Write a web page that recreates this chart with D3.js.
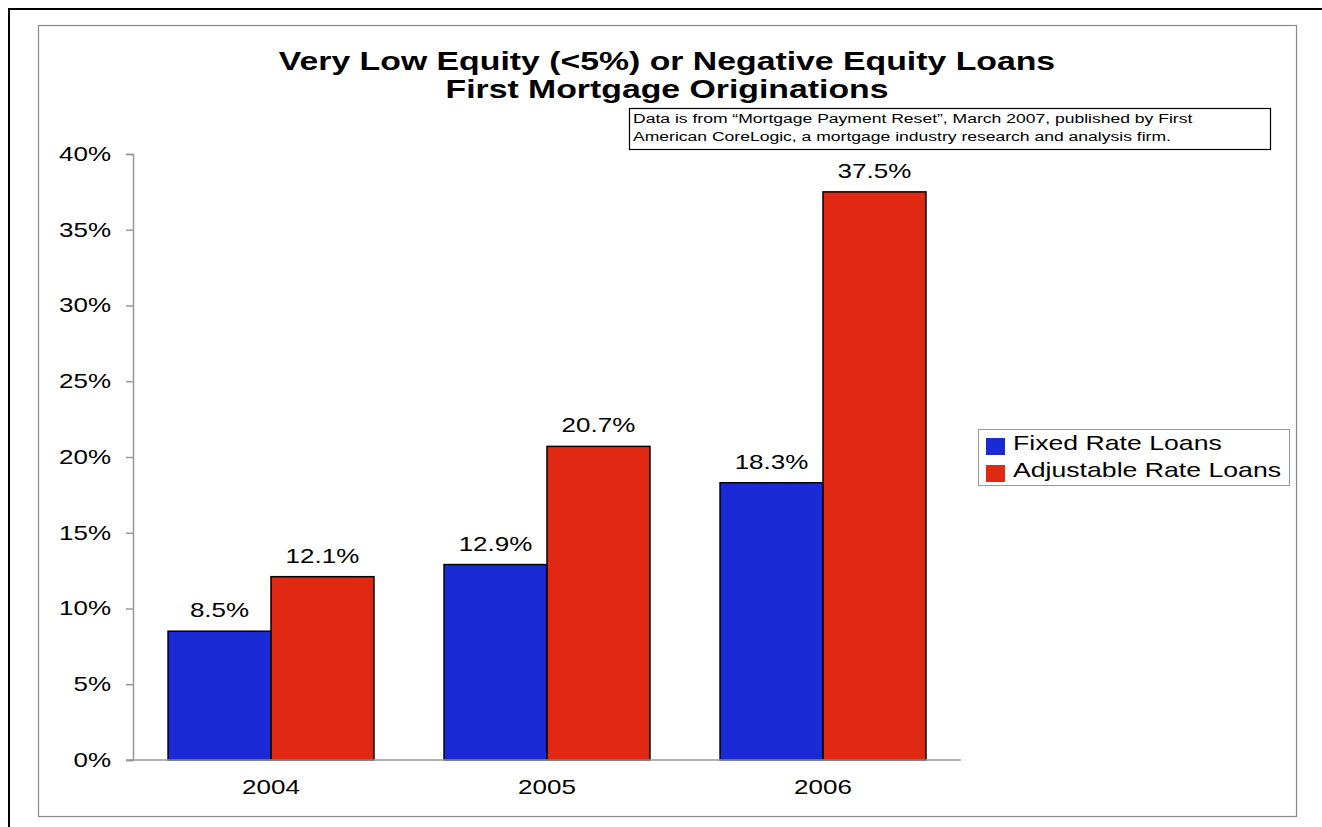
<!DOCTYPE html>
<html>
<head>
<meta charset="utf-8">
<script src="https://cdn.jsdelivr.net/npm/d3@7"></script>
<style>
  html, body { margin: 0; padding: 0; background: #fff; }
  svg { display: block; font-family: "Liberation Sans", Arial, sans-serif; }
</style>
</head>
<body>
<svg id="chart" width="1322" height="827"></svg>
<script>
// Loan origination shares by year
const years = ["2004", "2005", "2006"];
const seriesNames = ["Fixed Rate Loans", "Adjustable Rate Loans"];
const fixedRate = [8.5, 12.9, 18.3];
const adjustableRate = [12.1, 20.7, 37.5];
const yTicks = [0, 5, 10, 15, 20, 25, 30, 35, 40];
const colors = ["#1a2bd6", "#e02812"];

// all lettering uses a wide setting of the face
const SX = 1.3;
function widen(sel) {
  sel.each(function () {
    const t = d3.select(this);
    const ax = +(t.attr("x") || 0);
    t.attr("transform", `translate(${ax},0) scale(${SX},1) translate(${-ax},0)`);
  });
}

const svg = d3.select("#chart");

// outer page border and chart frame
svg.append("rect").attr("x", 9).attr("y", 9).attr("width", 1330).attr("height", 840)
  .attr("fill", "none").attr("stroke", "#000").attr("stroke-width", 2);
svg.append("rect").attr("x", 38.5).attr("y", 25.5).attr("width", 1258).attr("height", 791)
  .attr("fill", "none").attr("stroke", "#8a8a8a").attr("stroke-width", 1.2);

// title
const title = svg.append("text").attr("x", 667).attr("text-anchor", "middle")
  .attr("font-weight", "bold").attr("font-size", 26).attr("fill", "#000");
title.append("tspan").attr("x", 667).attr("y", 70).text("Very Low Equity (<5%) or Negative Equity Loans");
title.append("tspan").attr("x", 667).attr("y", 98).text("First Mortgage Originations");
widen(title);

// source note
svg.append("rect").attr("x", 629.5).attr("y", 108.5).attr("width", 641).attr("height", 41)
  .attr("fill", "#fff").attr("stroke", "#000").attr("stroke-width", 1.2);
const note = svg.append("text").attr("x", 633).attr("font-size", 13.5).attr("fill", "#000");
note.append("tspan").attr("x", 633).attr("y", 123).text("Data is from \u201cMortgage Payment Reset\u201d, March 2007, published by First");
note.append("tspan").attr("x", 633).attr("y", 141).text("American CoreLogic, a mortgage industry research and analysis firm.");
widen(note);

// scales
const plot = { left: 133, right: 961, top: 154, bottom: 760 };
const x = d3.scaleBand().domain(years).range([plot.left, plot.right]).paddingInner(0.254).paddingOuter(0.127);
const xs = d3.scaleBand().domain(seriesNames).range([0, x.bandwidth()]);
const y = d3.scaleLinear().domain([0, 40]).range([plot.bottom, plot.top]);

// y axis
const yAxis = svg.append("g").attr("transform", `translate(${plot.left},0)`)
  .call(d3.axisLeft(y).tickValues(yTicks).tickFormat(d => d + "%").tickSize(7).tickPadding(15));
yAxis.select(".domain").attr("stroke", "#999").attr("stroke-width", 1.5);
yAxis.selectAll(".tick line").attr("stroke", "#999").attr("stroke-width", 1.5);
yAxis.selectAll(".tick text").attr("font-size", 20).attr("fill", "#000")
  .attr("font-family", "'Liberation Sans', Arial, sans-serif").call(widen);

// bars
const data = years.map((yr, i) => ({ year: yr, values: [fixedRate[i], adjustableRate[i]] }));
const groups = svg.append("g").selectAll("g").data(data).join("g")
  .attr("transform", d => `translate(${x(d.year)},0)`);
groups.selectAll("rect").data(d => d.values.map((v, j) => ({ v, name: seriesNames[j], j })))
  .join("rect")
  .attr("x", d => xs(d.name))
  .attr("y", d => y(d.v))
  .attr("width", xs.bandwidth())
  .attr("height", d => y(0) - y(d.v))
  .attr("fill", d => colors[d.j])
  .attr("stroke", "#000").attr("stroke-width", 1.5);
groups.selectAll("text").data(d => d.values.map((v, j) => ({ v, name: seriesNames[j] })))
  .join("text")
  .attr("x", d => xs(d.name) + xs.bandwidth() / 2)
  .attr("y", d => y(d.v) - 14)
  .attr("text-anchor", "middle").attr("font-size", 20).attr("fill", "#000")
  .text(d => d.v.toFixed(1) + "%")
  .call(widen);

// x axis
const xAxis = svg.append("g").attr("transform", `translate(0,${plot.bottom})`)
  .call(d3.axisBottom(x).tickSize(0).tickPadding(20));
xAxis.select(".domain").attr("d", `M${plot.left - 7},0H${plot.right}`).attr("stroke", "#999").attr("stroke-width", 1.5);
xAxis.selectAll(".tick text").attr("font-size", 20).attr("fill", "#000")
  .attr("font-family", "'Liberation Sans', Arial, sans-serif").call(widen);

// legend
const legend = svg.append("g").attr("transform", "translate(978,429)");
legend.append("rect").attr("x", 0.5).attr("y", 0.5).attr("width", 311).attr("height", 56)
  .attr("fill", "#fff").attr("stroke", "#999").attr("stroke-width", 1);
seriesNames.forEach((name, i) => {
  legend.append("rect").attr("x", 8).attr("y", 9 + i * 27).attr("width", 19).attr("height", 17)
    .attr("fill", colors[i]);
  legend.append("text").attr("x", 35).attr("y", 21 + i * 27).attr("font-size", 20.5)
    .attr("fill", "#000").text(name).call(widen);
});
</script>
</body>
</html>
